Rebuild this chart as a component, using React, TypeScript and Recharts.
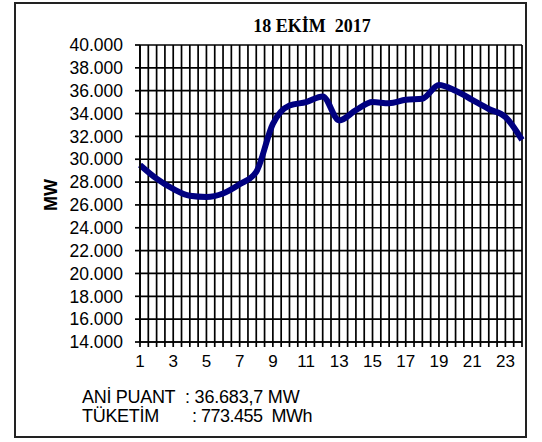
import React from 'react';
import { LineChart, Line, XAxis, YAxis, CartesianGrid } from 'recharts';

const hours = [1, 2, 3, 4, 5, 6, 7, 8, 9, 10, 11, 12, 13, 14, 15, 16, 17, 18, 19, 20, 21, 22, 23, 24];
const loadMW = [29500, 28300, 27400, 26800, 26700, 27000, 27800, 28900, 33100, 34700, 35000, 35500, 33400, 34300, 35000, 34900, 35200, 35300, 36500, 36000, 35200, 34400, 33700, 31700];
const yTicks = [14000, 16000, 18000, 20000, 22000, 24000, 26000, 28000, 30000, 32000, 34000, 36000, 38000, 40000];
const xTicks = [1, 1.5, 2, 2.5, 3, 3.5, 4, 4.5, 5, 5.5, 6, 6.5, 7, 7.5, 8, 8.5, 9, 9.5, 10, 10.5, 11, 11.5, 12, 12.5, 13, 13.5, 14, 14.5, 15, 15.5, 16, 16.5, 17, 17.5, 18, 18.5, 19, 19.5, 20, 20.5, 21, 21.5, 22, 22.5, 23, 23.5, 24];
const xLabels = [1, 3, 5, 7, 9, 11, 13, 15, 17, 19, 21, 23];

const title = '18 EKİM  2017';
const yTitle = 'MW';
const peakLabel = 'ANİ PUANT';
const peakValue = ': 36.683,7 MW';
const consLabel = 'TÜKETİM';
const consValue = ': 773.455  MWh';

const data = hours.map((h, i) => ({ hour: h, mw: loadMW[i] }));

const sans = '"Liberation Sans", Arial, sans-serif';
const serif = '"Liberation Serif", "Times New Roman", serif';

export default function App() {
  return (
    <div style={{ position: 'absolute', left: 0, top: 0, width: 542, height: 442, background: '#fff' }}>
      <div style={{ position: 'absolute', left: 0, top: 0 }}>
        <LineChart width={542} height={442} data={data} margin={{ top: 45, right: 20, bottom: 70, left: 80 }}>
          <CartesianGrid stroke="#000" strokeWidth={1.7} strokeOpacity={1} />
          <XAxis
            dataKey="hour"
            type="number"
            domain={[1, 24]}
            ticks={xTicks}
            interval={0}
            height={30}
            tickSize={5}
            tickMargin={8}
            axisLine={{ stroke: '#000', strokeWidth: 1.7 }}
            tickLine={{ stroke: '#000', strokeWidth: 1.7 }}
            tick={{ fill: '#000', fontSize: 17, fontFamily: sans }}
            tickFormatter={(v: number) => (xLabels.includes(v) ? String(v) : '')}
          />
          <YAxis
            type="number"
            domain={[14000, 40000]}
            ticks={yTicks}
            interval={0}
            width={60}
            tickSize={5}
            tickMargin={12}
            axisLine={{ stroke: '#000', strokeWidth: 1.7 }}
            tickLine={{ stroke: '#000', strokeWidth: 1.7 }}
            tick={{ fill: '#000', fontSize: 17.5, fontFamily: sans }}
            tickFormatter={(v: number) => `${v / 1000}.000`}
          />
          <Line
            type="monotone"
            dataKey="mw"
            stroke="#000080"
            strokeWidth={6}
            dot={false}
            isAnimationActive={false}
          />
        </LineChart>
      </div>
      <svg width={542} height={442} style={{ position: 'absolute', left: 0, top: 0, pointerEvents: 'none' }}>
        <rect x={15} y={3} width={511} height={434} fill="none" stroke="#222" strokeWidth={2} />
        <text x={312} y={32} textAnchor="middle" fontFamily={serif} fontWeight="bold" fontSize={18} fill="#000" style={{ whiteSpace: 'pre' }}>
          {title}
        </text>
        <text transform="translate(57,195) rotate(-90)" textAnchor="middle" fontFamily={sans} fontWeight="bold" fontSize={18} fill="#000">
          {yTitle}
        </text>
        <text x={82} y={403} fontFamily={sans} fontSize={18} letterSpacing={-0.3} fill="#000">{peakLabel}</text>
        <text x={185} y={403} fontFamily={sans} fontSize={18} letterSpacing={-0.2} fill="#000" style={{ whiteSpace: 'pre' }}>{peakValue}</text>
        <text x={82} y={422} fontFamily={sans} fontSize={18} letterSpacing={-0.3} fill="#000">{consLabel}</text>
        <text x={192} y={422} fontFamily={sans} fontSize={18} letterSpacing={-0.5} fill="#000" style={{ whiteSpace: 'pre' }}>{consValue}</text>
      </svg>
    </div>
  );
}
